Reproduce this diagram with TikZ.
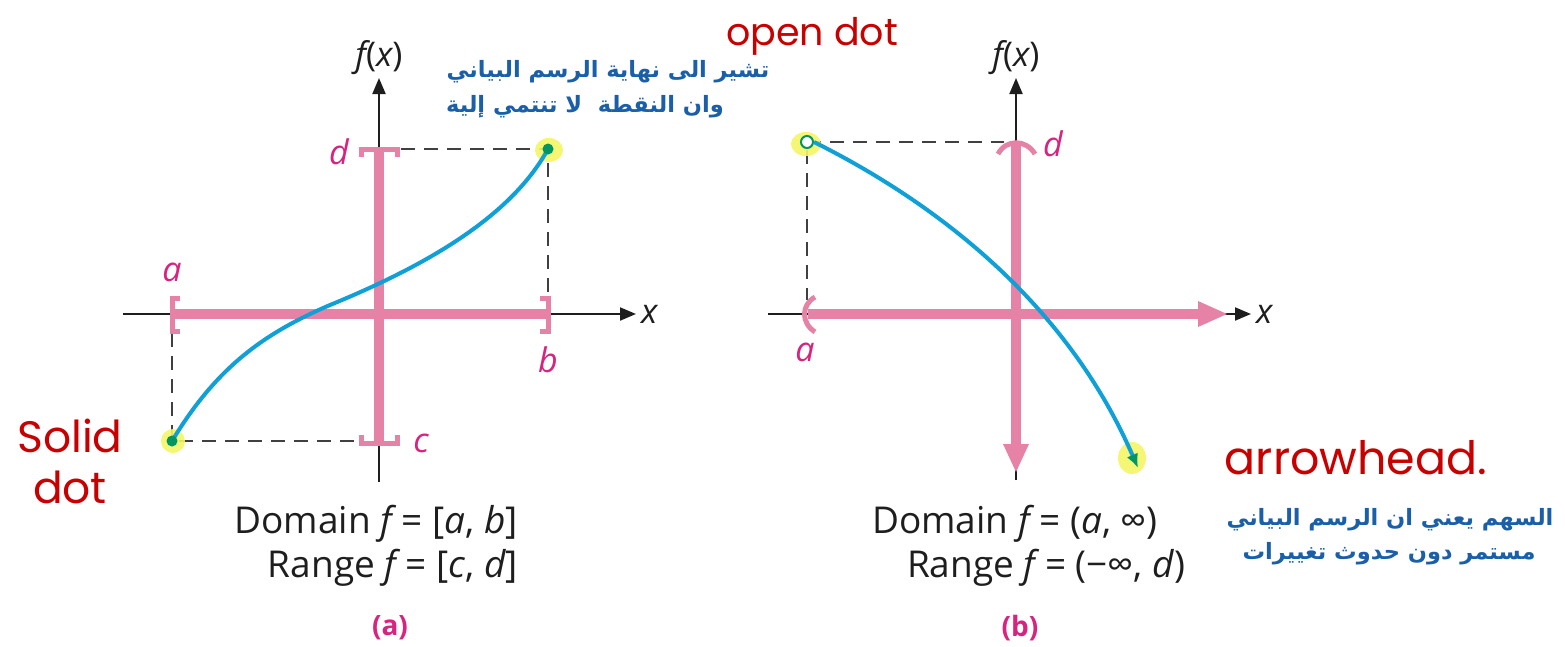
\documentclass[tikz,border=0pt]{standalone}
\usepackage{fontspec}
\setmainfont{Open Sans}
\newfontfamily\arabicfont[Script=Arabic]{DejaVu Sans}
\newfontfamily\handfont{Poppins}
\TeXXeTstate=1
\usetikzlibrary{arrows.meta}
\definecolor{pinkbar}{RGB}{230,130,165}
\definecolor{pinklbl}{RGB}{214,36,127}
\definecolor{curveblue}{RGB}{16,160,216}
\definecolor{dotgreen}{RGB}{0,150,100}
\definecolor{arblue}{RGB}{26,95,168}
\definecolor{handred}{RGB}{200,0,0}
\definecolor{hilite}{RGB}{244,245,100}
\definecolor{axisblack}{RGB}{30,30,30}
\begin{document}
\begin{tikzpicture}[x=1pt,y=-1pt,
  axis/.style={draw=axisblack,line width=2pt,-{Triangle[length=16pt,width=13pt]}},
  bar/.style={draw=pinkbar,line width=10pt},
  brk/.style={draw=pinkbar,line width=5pt},
  dashline/.style={draw=axisblack!85,line width=2.4pt,dash pattern=on 14pt off 9pt},
  fcurve/.style={draw=curveblue,line width=4pt},
  lbl/.style={text=pinklbl,font=\fontsize{34}{40}\selectfont\itshape,inner sep=0pt},
  axlbl/.style={text=axisblack,font=\fontsize{34}{40}\selectfont,inner sep=0pt},
  captxt/.style={text=axisblack,font=\fontsize{37}{42}\selectfont,inner sep=0pt},
  panel/.style={text=pinklbl,font=\fontsize{28}{32}\selectfont\bfseries,inner sep=0pt},
  arab/.style={text=arblue,font=\fontsize{22.5}{28}\selectfont\arabicfont\bfseries,inner sep=0pt},
  hand/.style={text=handred,font=\fontsize{44}{48}\selectfont\handfont,inner sep=0pt},
  hl/.style={fill=hilite,opacity=0.9},
  sdot/.style={circle,fill=dotgreen,minimum size=11pt,inner sep=0pt},
  odot/.style={circle,draw=dotgreen,fill=white,line width=2pt,minimum size=12pt,inner sep=0pt}]
\useasboundingbox (0,0) rectangle (1565,646);

% ===== Panel (a) =====
\coordinate (ayb) at (379,482);
\coordinate (ayt) at (379,78);
\coordinate (axl) at (123,314);
\coordinate (axr) at (636,314);
\draw[axis] (ayb) -- (ayt);
\draw[axis] (axl) -- (axr);
\node[axlbl] (afx) at (379,58) {\itshape f\upshape(\itshape x\upshape)};
\node[axlbl,anchor=west] (ax) at (641,314) {\itshape x};

% dashed guides
\coordinate (pa) at (172,441);
\coordinate (pb) at (548,149);
\draw[dashline] (172,333) -- (pa) -- (361,441);
\draw[dashline] (401,149) -- (pb) -- (548,298);

% pink bars
\draw[bar] (172,314) -- (548,314);
\draw[bar] (379,149) -- (379,443);
\draw[brk] (180,298) -- (172,298) -- (172,331) -- (180,331);
\draw[brk] (540,298) -- (548,298) -- (548,331) -- (540,331);
\draw[brk] (361,157) -- (361,149) -- (397,149) -- (397,157);
\draw[brk] (361,435) -- (361,443) -- (397,443) -- (397,435);

\node[lbl] (la) at (172,272) {a};
\node[lbl] (lb) at (548,360) {b};
\node[lbl] (ld) at (339,152) {d};
\node[lbl] (lc) at (421,443) {c};

% highlights and curve
\fill[hl] (173,441) circle (12pt);
\fill[hl] (549,150) ellipse (14pt and 12pt);
\draw[fcurve] (pa) .. controls (215,370) and (260,335) .. (330,305)
  .. controls (430,264) and (512,215) .. (pb);
\node[sdot] (adot1) at (pa) {};
\node[sdot] (adot2) at (pb) {};

\node[captxt,anchor=east] (adom) at (518,524) {Domain \itshape f\upshape\ = [\itshape a\upshape, \itshape b\upshape]};
\node[captxt,anchor=east] (aran) at (518,568) {Range \itshape f\upshape\ = [\itshape c\upshape, \itshape d\upshape]};
\node[panel] (pna) at (390,628) {(a)};

% ===== Panel (b) =====
\coordinate (byb) at (1016,480);
\coordinate (byt) at (1016,78);
\coordinate (bxl) at (768,314);
\coordinate (bxr) at (1251,314);
\draw[axis] (byb) -- (byt);
\draw[axis] (bxl) -- (bxr);
\node[axlbl] (bfx) at (1016,58) {\itshape f\upshape(\itshape x\upshape)};
\node[axlbl,anchor=west] (bx) at (1256,314) {\itshape x};

\coordinate (po) at (807,142);
\draw[dashline] (po) -- (1004,142);
\draw[dashline] (807,150) -- (807,300);

\draw[bar] (808,314) -- (1200,314);
\fill[pinkbar] (1198,301) -- (1227,314) -- (1198,327) -- cycle;
\draw[bar] (1016,145) -- (1016,446);
\fill[pinkbar] (1003,444) -- (1016,472) -- (1029,444) -- cycle;
\draw[brk] (815,297) .. controls (801,305) and (801,323) .. (815,332);
\draw[brk] (998,154) .. controls (1006,139) and (1026,139) .. (1035,154);

\node[lbl] (bla) at (805,352) {a};
\node[lbl] (bld) at (1053,144) {d};

\fill[hl] (806,144) ellipse (15pt and 12pt);
\fill[hl] (1132,458) ellipse (14pt and 16pt);
\coordinate (pe) at (1138,468);
\node[odot] (bdot) at (po) {};
\draw[fcurve,-{Latex[length=14pt,width=12pt,color=dotgreen]}] (bdot.east) .. controls (920,195) and (1062,292) .. (pe);

\node[captxt] (bdom) at (1015,524) {Domain \itshape f\upshape\ = (\itshape a\upshape, ∞)};
\node[captxt] (bran) at (1046,568) {Range \itshape f\upshape\ = (−∞, \itshape d\upshape)};
\node[panel] (pnb) at (1020,628) {(b)};

% ===== Arabic notes =====
\node[arab] (ar1) at (608,72) {\beginR تشير الى نهاية الرسم البياني\endR};
\node[arab] (ar2) at (585,107) {\beginR وان النقطة \ لا تنتمي إلية\endR};
\node[arab] (ar3) at (1390,520) {\beginR السهم يعني ان الرسم البياني\endR};
\node[arab] (ar4) at (1389,554) {\beginR مستمر دون حدوث تغييرات\endR};

% ===== Handwritten notes =====
\node[hand,font=\fontsize{38}{42}\selectfont\handfont] (h1) at (812,36) {open dot};
\node[hand] (h2) at (70,436) {Solid};
\node[hand] (h3) at (70,487) {dot};
\node[hand,font=\fontsize{46}{50}\selectfont\handfont] (h4) at (1356,458) {arrowhead.};
\end{tikzpicture}
\end{document}
